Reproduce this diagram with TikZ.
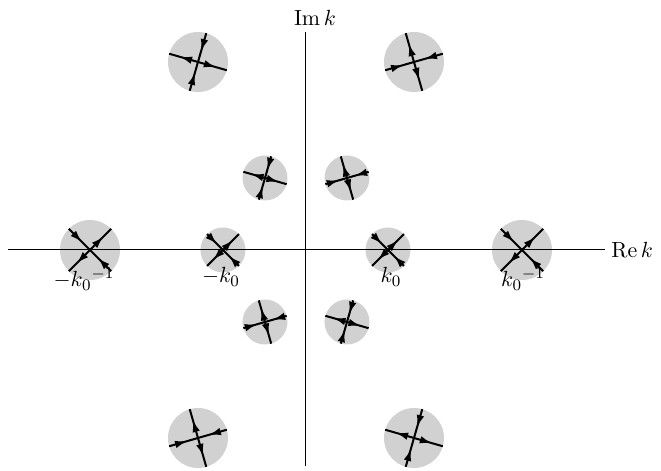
\documentclass[tikz,border=0pt]{standalone}
\usepackage{tikz}
\usetikzlibrary{arrows.meta,calc,decorations.markings}

\begin{document}
\begin{tikzpicture}[
  x=0.5pt, y=0.5pt,
  font=\fontsize{11}{13}\selectfont,
  lbl/.style={inner sep=1pt},
  axisline/.style={draw=black, line width=0.5pt},
  bigdisk/.style={circle, fill=black!18, minimum size=30pt, inner sep=0pt},
  smalldisk/.style={circle, fill=black!18, minimum size=22.5pt, inner sep=0pt},
  flowseg/.style={draw=black, line width=1pt,
    decoration={markings, mark=at position 0.62 with {\arrow{Latex[length=6pt,width=3.8pt]}}},
    postaction={decorate}}
]
\useasboundingbox (-306,-221) rectangle (355,250);

% disks
\node[bigdisk] (ulb) at (-108,188) {};
\node[bigdisk] (urb) at (108,188) {};
\node[smalldisk] (uls) at (-41,72) {};
\node[smalldisk] (urs) at (41,72) {};
\node[bigdisk] (mkinv) at (-216,0) {};
\node[smalldisk] (mk) at (-83,0) {};
\node[smalldisk] (pk) at (82,0) {};
\node[bigdisk] (pkinv) at (216,0) {};
\node[smalldisk] (lls) at (-41,-72) {};
\node[smalldisk] (lrs) at (41,-72) {};
\node[bigdisk] (llb) at (-108,-188) {};
\node[bigdisk] (lrb) at (108,-188) {};

% axes
\coordinate (xl) at (-298,0);
\coordinate (xr) at (299,0);
\coordinate (yb) at (0,-216);
\coordinate (yt) at (0,218);
\draw[axisline] (xl) -- (xr);
\draw[axisline] (yb) -- (yt);
\node[lbl, anchor=west, inner sep=3pt] (rek) at (xr) {$\mathrm{Re}\,k$};
\node[lbl, anchor=south, inner sep=3pt] (imk) at ($(yt)+(9,0)$) {$\mathrm{Im}\,k$};

% out along angle, in across it
\foreach \n/\r/\a in {ulb/30/-16, urb/30/106, uls/22.5/-16, urs/22.5/106,
                      mkinv/30/45, mk/22.5/45, pk/22.5/45, pkinv/30/45,
                      lls/22.5/106, lrs/22.5/-16, llb/30/106, lrb/30/-16} {
  \coordinate (\n-o1) at ($(\n.center)+(\a:\r)$);
  \coordinate (\n-o2) at ($(\n.center)+(\a+180:\r)$);
  \coordinate (\n-i1) at ($(\n.center)+(\a+90:\r)$);
  \coordinate (\n-i2) at ($(\n.center)+(\a-90:\r)$);
  \draw[flowseg] (\n.center) -- (\n-o1);
  \draw[flowseg] (\n.center) -- (\n-o2);
  \draw[flowseg] (\n-i1) -- (\n.center);
  \draw[flowseg] (\n-i2) -- (\n.center);
}

% labels
\node[lbl] (lmkinv) at (-222,-29) {$-{k_0}^{-1}$};
\node[lbl] (lmk) at (-85,-27) {$-k_0$};
\node[lbl] (lpk) at (85,-27) {$k_0$};
\node[lbl] (lpkinv) at (217,-29) {${k_0}^{-1}$};

\end{tikzpicture}
\end{document}
